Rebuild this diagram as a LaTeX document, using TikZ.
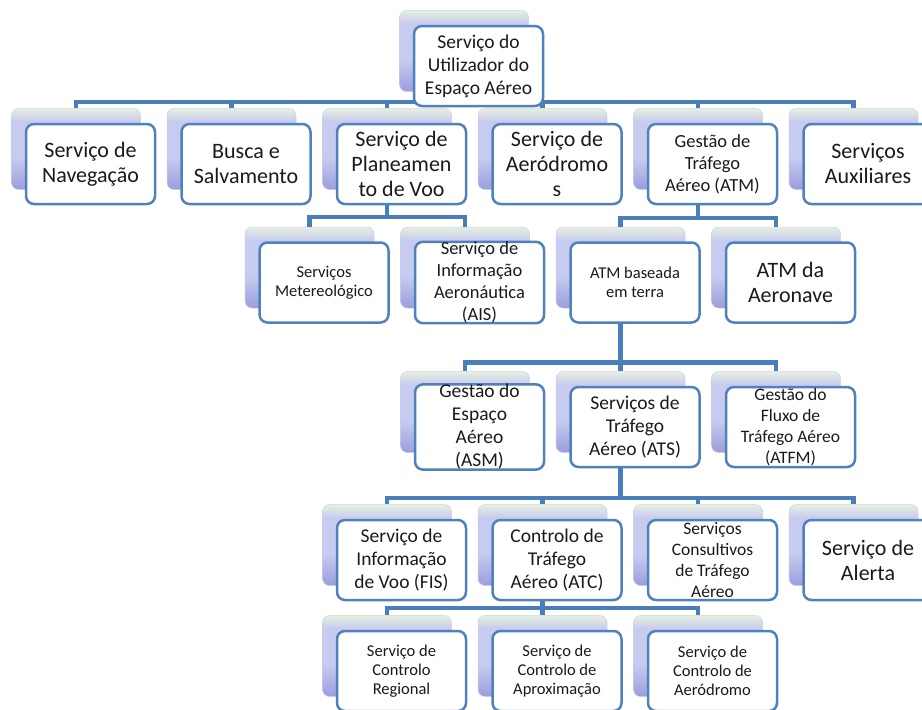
\documentclass[tikz,border=0pt]{standalone}
\usepackage{fontspec}
\setmainfont{Carlito}
\definecolor{linha}{HTML}{4A7EBB}
\definecolor{borda}{HTML}{4F81BD}
\definecolor{topo}{HTML}{E6F0DE}
\definecolor{meio}{HTML}{C8CBF0}
\definecolor{fundo}{HTML}{9A9EDD}
\definecolor{texto}{HTML}{1A1A1A}
\pgfdeclareverticalshading{fundocaixa}{100bp}{color(0bp)=(fundo); color(25bp)=(fundo);
  color(45bp)=(meio); color(67bp)=(meio); color(75bp)=(topo); color(100bp)=(topo)}

\begin{document}
\begin{tikzpicture}[x=1pt, y=1pt,
  link/.style={draw=linha, line width=4.5pt},
  back/.style={rounded corners=7pt, minimum width=129pt, minimum height=81pt,
    draw=fundo!50, line width=0.5pt, shading=fundocaixa},
  front/.style={rounded corners=8pt, minimum width=129pt, minimum height=80pt,
    draw=borda, line width=2.5pt, fill=white, text=texto, align=center, inner sep=0pt,
    xshift=14.5pt, yshift=-15pt},
  f22/.style={font=\fontsize{22}{25}\selectfont},
  f19/.style={font=\fontsize{19.5}{23}\selectfont},
  f18/.style={font=\fontsize{18.5}{22}\selectfont},
  f17/.style={font=\fontsize{17.5}{21}\selectfont},
  f16/.style={font=\fontsize{16.5}{19}\selectfont}]

  \useasboundingbox (0,0) rectangle (922,-710);

  % caixas de fundo
  \foreach \n/\x/\y in {top/464/51,
      nav/76/149, busca/231.5/149, plan/387/149, aero/542.5/149, gta/698/149, aux/853.5/149,
      met/309.5/267.5, ais/465/267.5, terra/620.5/267.5, anav/776/267.5,
      asm/465/412, ats/620.5/412, atfm/776/412,
      fis/387/545, atc/542.5/545, cons/698/545, alerta/853.5/545,
      reg/387/656, apr/542.5/656, adr/698/656}
    \node[back] (\n B) at (\x,-\y) {};

  % ligacoes
  \foreach \k in {nav,busca,plan,aero,gta,aux}
    \draw[link] (topB.south) -- ++(0,-10) -| (\k B.north);
  \foreach \k in {met,ais}
    \draw[link] (planB.south) -- ++(0,-27) -| (\k B.north);
  \foreach \k in {terra,anav}
    \draw[link] (gtaB.south) -- ++(0,-28) -| (\k B.north);
  \foreach \k in {asm,ats,atfm}
    \draw[link] (terraB.south) -- ++(0,-54) -| (\k B.north);
  \foreach \k in {fis,atc,cons,alerta}
    \draw[link] (atsB.south) -- ++(0,-45) -| (\k B.north);
  \foreach \k in {reg,apr,adr}
    \draw[link] (atcB.south) -- ++(0,-22) -| (\k B.north);

  % caixas da frente
  \node[front, f19] (top) at (topB) {Serviço do\\Utilizador do\\Espaço Aéreo};

  \node[front, f22] (nav) at (navB) {Serviço de\\Navegação};
  \node[front, f22] (busca) at (buscaB) {Busca e\\Salvamento};
  \node[front, f22] (plan) at (planB) {Serviço de\\Planeamen\\to de Voo};
  \node[front, f22] (aero) at (aeroB) {Serviço de\\Aeródromo\\s};
  \node[front, f18] (gta) at (gtaB) {Gestão de\\Tráfego\\Aéreo (ATM)};
  \node[front, f22] (aux) at (auxB) {Serviços\\Auxiliares};

  \node[front, f16] (met) at (metB) {Serviços\\Metereológico};
  \node[front, f18] (ais) at (aisB) {Serviço de\\Informação\\Aeronáutica\\(AIS)};
  \node[front, f16] (terra) at (terraB) {ATM baseada\\em terra};
  \node[front, f22] (anav) at (anavB) {ATM da\\Aeronave};

  \node[front, f19] (asm) at (asmB) {Gestão do\\Espaço\\Aéreo\\(ASM)};
  \node[front, f19] (ats) at (atsB) {Serviços de\\Tráfego\\Aéreo (ATS)};
  \node[front, f17] (atfm) at (atfmB) {Gestão do\\Fluxo de\\Tráfego Aéreo\\(ATFM)};

  \node[front, f19] (fis) at (fisB) {Serviço de\\Informação\\de Voo (FIS)};
  \node[front, f19] (atc) at (atcB) {Controlo de\\Tráfego\\Aéreo (ATC)};
  \node[front, f17] (cons) at (consB) {Serviços\\Consultivos\\de Tráfego\\Aéreo};
  \node[front, f22] (alerta) at (alertaB) {Serviço de\\Alerta};

  \node[front, f16] (reg) at (regB) {Serviço de\\Controlo\\Regional};
  \node[front, f16] (apr) at (aprB) {Serviço de\\Controlo de\\Aproximação};
  \node[front, f16] (adr) at (adrB) {Serviço de\\Controlo de\\Aeródromo};

\end{tikzpicture}
\end{document}
